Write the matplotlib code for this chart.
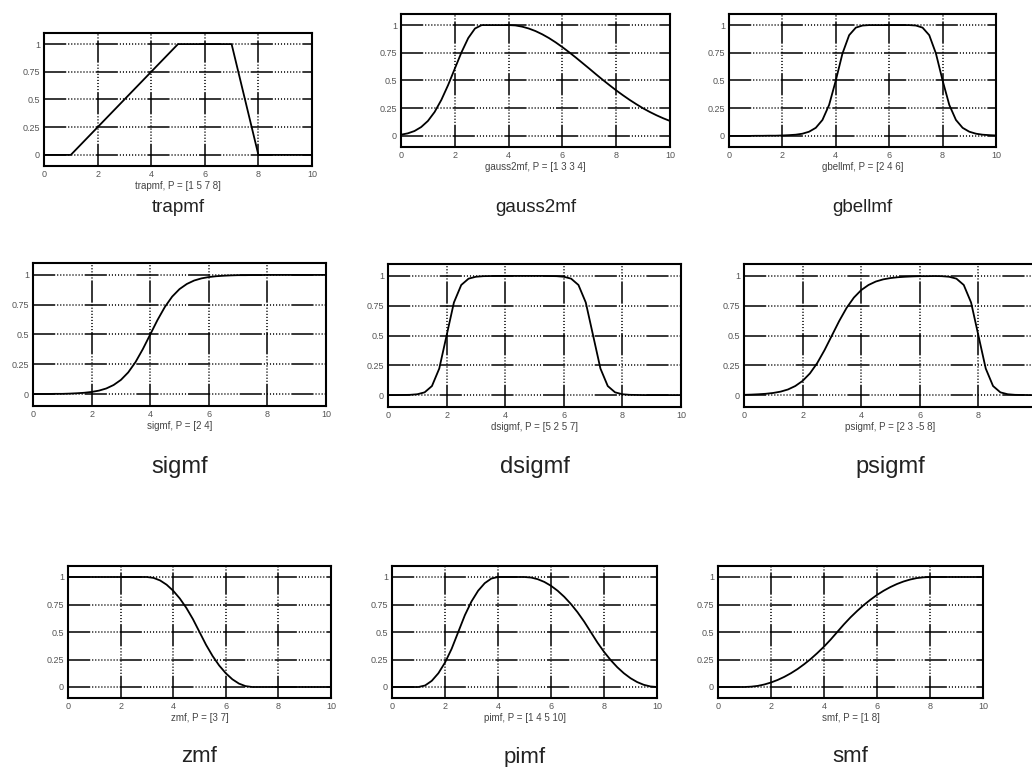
import matplotlib.pyplot as plt

plt.rcParams['font.family'] = ['Liberation Sans', 'DejaVu Sans']
plt.rcParams['lines.scale_dashes'] = False

# sample points along the universe of discourse
x_grid = [0.0, 0.25, 0.5, 0.75, 1.0, 1.25, 1.5, 1.75, 2.0, 2.25, 2.5, 2.75,
          3.0, 3.25, 3.5, 3.75, 4.0, 4.25, 4.5, 4.75, 5.0, 5.25, 5.5, 5.75,
          6.0, 6.25, 6.5, 6.75, 7.0, 7.25, 7.5, 7.75, 8.0, 8.25, 8.5, 8.75,
          9.0, 9.25, 9.5, 9.75, 10.0]

trap_x = [0, 1, 5, 7, 8, 10]
trap_y = [0, 0, 1, 1, 0, 0]

gauss2_y = [0.011, 0.023, 0.044, 0.080, 0.135, 0.216, 0.325, 0.458, 0.607,
            0.755, 0.883, 0.969, 1.0, 1.0, 1.0, 1.0, 1.0, 0.997, 0.986, 0.969,
            0.946, 0.917, 0.883, 0.844, 0.801, 0.755, 0.707, 0.657, 0.607,
            0.556, 0.506, 0.458, 0.411, 0.367, 0.325, 0.286, 0.249, 0.216,
            0.186, 0.159, 0.135]

gbell_y = [0.0, 0.0, 0.0, 0.0, 0.001, 0.001, 0.002, 0.002, 0.004, 0.007,
           0.011, 0.020, 0.038, 0.073, 0.144, 0.280, 0.500, 0.744, 0.909,
           0.977, 0.996, 1.0, 1.0, 1.0, 1.0, 1.0, 1.0, 1.0, 0.996, 0.977,
           0.909, 0.744, 0.500, 0.280, 0.144, 0.073, 0.038, 0.020, 0.011,
           0.007, 0.004]

sig_y = [0.0, 0.001, 0.001, 0.002, 0.002, 0.004, 0.007, 0.011, 0.018, 0.029,
         0.047, 0.076, 0.119, 0.182, 0.269, 0.378, 0.500, 0.622, 0.731, 0.818,
         0.881, 0.924, 0.953, 0.971, 0.982, 0.989, 0.993, 0.996, 0.998, 0.998,
         0.999, 0.999, 1.0, 1.0, 1.0, 1.0, 1.0, 1.0, 1.0, 1.0, 1.0]

dsig_y = [0.0, 0.0, 0.001, 0.002, 0.007, 0.023, 0.076, 0.223, 0.500,
          0.777, 0.924, 0.977, 0.993, 0.998, 0.999, 1.0,
          1.0, 1.0, 1.0, 1.0, 1.0, 1.0,
          0.999, 0.998, 0.993, 0.977, 0.924, 0.777, 0.500, 0.223, 0.076,
          0.023, 0.007, 0.002, 0.001,
          0.0, 0.0, 0.0, 0.0, 0.0, 0.0]

psig_y = [0.002, 0.004, 0.007, 0.011, 0.018, 0.029, 0.047, 0.076, 0.119,
          0.182, 0.269, 0.378, 0.500, 0.622, 0.731, 0.818, 0.881, 0.924,
          0.953, 0.971, 0.982, 0.989, 0.993, 0.996, 0.998, 0.998, 0.999,
          0.998, 0.993, 0.977, 0.924, 0.777, 0.500, 0.223, 0.076, 0.023,
          0.007, 0.002, 0.001, 0.0, 0.0]

z_y = [1.0, 1.0, 1.0, 1.0, 1.0, 1.0, 1.0, 1.0, 1.0, 1.0, 1.0, 1.0, 1.0,
       0.992, 0.969, 0.930, 0.875, 0.805, 0.719, 0.617, 0.500, 0.383, 0.281,
       0.195, 0.125, 0.070, 0.031, 0.008, 0.0,
       0.0, 0.0, 0.0, 0.0, 0.0, 0.0, 0.0, 0.0, 0.0, 0.0, 0.0, 0.0]

pi_y = [0.0, 0.0, 0.0, 0.0, 0.0, 0.014, 0.056, 0.125, 0.222, 0.347, 0.500,
        0.653, 0.778, 0.875, 0.944, 0.986, 1.0, 1.0, 1.0, 1.0, 1.0,
        0.995, 0.980, 0.955, 0.920, 0.875, 0.820, 0.755, 0.680, 0.595, 0.500,
        0.405, 0.320, 0.245, 0.180, 0.125, 0.080, 0.045, 0.020, 0.005, 0.0]

s_y = [0.0, 0.0, 0.0, 0.0, 0.0, 0.003, 0.010, 0.023, 0.041, 0.064, 0.092,
       0.125, 0.163, 0.207, 0.255, 0.309, 0.367, 0.431, 0.500, 0.569, 0.633,
       0.691, 0.745, 0.793, 0.837, 0.875, 0.908, 0.936, 0.959, 0.977, 0.990,
       0.997, 1.0, 1.0, 1.0, 1.0, 1.0, 1.0, 1.0, 1.0, 1.0]

names = ['trapmf', 'gauss2mf', 'gbellmf',
         'sigmf', 'dsigmf', 'psigmf',
         'zmf', 'pimf', 'smf']
params = ['[1 5 7 8]', '[1 3 3 4]', '[2 4 6]',
          '[2 4]', '[5 2 5 7]', '[2 3 -5 8]',
          '[3 7]', '[1 4 5 10]', '[1 8]']
curves_x = [trap_x] + [x_grid] * 8
curves_y = [trap_y, gauss2_y, gbell_y, sig_y, dsig_y, psig_y, z_y, pi_y, s_y]

x_ticks = [0, 2, 4, 6, 8, 10]
x_tick_labels = ['0', '2', '4', '6', '8', '10']
y_ticks = [0, 0.25, 0.5, 0.75, 1]
y_tick_labels = ['0', '0.25', '0.5', '0.75', '1']

W, H = 1032, 767
fig = plt.figure(figsize=(W / 100, H / 100), dpi=100)

# axes boxes in pixels: left, top, right, bottom
# (the psigmf box runs past the right edge of the page)
boxes = [(44, 33, 312, 166), (401, 14, 670, 147), (729, 14, 996, 147),
         (33, 263, 326, 406), (388, 264, 681, 407), (744, 264, 1037, 407),
         (68, 566, 331, 698), (392, 566, 657, 698), (718, 566, 983, 698)]
caption_y = [207, 467, 757]
caption_size = [13.5, 17, 16]

# long dash followed by a run of dots, like the old MATLAB grid
grid_dash = (0, [16, 1.4] + [0.8, 1.4] * 9)

for i, (l, t, r, b) in enumerate(boxes):
    ax = fig.add_axes([l / W, 1 - b / H, (r - l) / W, (b - t) / H])
    ax.plot(curves_x[i], curves_y[i], color='black', lw=1.3, zorder=3)
    ax.set_xlim(0, 10)
    ax.set_ylim(-0.1, 1.1)
    ax.set_xticks(x_ticks)
    labels = list(x_tick_labels)
    if r > W:
        # last label falls off the page
        labels[-1] = ''
    ax.set_xticklabels(labels)
    ax.set_yticks(y_ticks)
    ax.set_yticklabels(y_tick_labels)
    ax.grid(True, color='black', lw=1.1, linestyle=grid_dash)
    ax.tick_params(length=0, pad=3, labelsize=6.5, labelcolor='#555555')
    for sp in ax.spines.values():
        sp.set_linewidth(1.5)
    ax.set_xlabel(names[i] + ', P = ' + params[i], fontsize=7,
                  color='#444444', labelpad=1)
    row = i // 3
    fig.text((l + r) / 2 / W, 1 - caption_y[row] / H, names[i],
             fontsize=caption_size[row], color='#222222',
             ha='center', va='center')

fig.savefig('out.png', dpi=100)
